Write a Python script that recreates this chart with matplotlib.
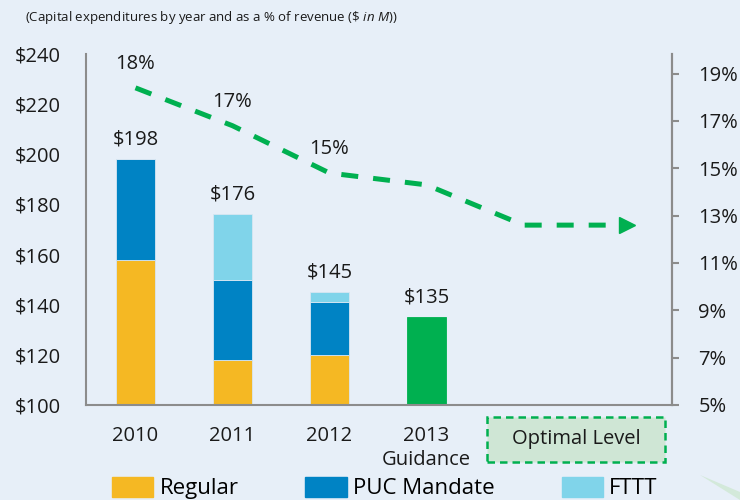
import matplotlib
matplotlib.use('Agg')
import matplotlib.pyplot as plt
from matplotlib.patches import Patch, Rectangle, Polygon

plt.rcParams['font.family'] = ['Open Sans', 'DejaVu Sans']
plt.rcParams['mathtext.fontset'] = 'custom'
plt.rcParams['mathtext.rm'] = 'Open Sans'
plt.rcParams['mathtext.it'] = 'Open Sans:italic'

# data ($M and % of revenue)
years = ['2010', '2011', '2012', '2013\nGuidance']
regular = [158, 118, 120, 0]
puc_mandate = [40, 32, 21, 0]
fttt = [0, 26, 4, 0]
guidance = [0, 0, 0, 135]
totals = [198, 176, 145, 135]
pct_x = [0, 1, 2, 3, 4, 5]
pct = [18.4, 16.8, 14.8, 14.3, 12.6, 12.6]
pct_labels = ['18%', '17%', '15%']

bg = '#E7EFF8'
c_regular = '#F5B823'
c_puc = '#0083C4'
c_fttt = '#80D4EA'
c_green = '#00B050'
c_axis = '#8C8C8C'
txt = '#1A1A1A'

fig = plt.figure(figsize=(7.4, 5), dpi=100, facecolor=bg)
ax = fig.add_axes([86 / 740, 95 / 500, 586 / 740, 351 / 500])
ax.set_facecolor('none')

x = range(len(years))
w = 0.4
edge = dict(edgecolor='#D8E6F2', linewidth=0.6)
ax.bar(x, regular, w, color=c_regular, **edge)
bot = [r for r in regular]
ax.bar(x, puc_mandate, w, bottom=bot, color=c_puc, **edge)
bot = [b + p for b, p in zip(bot, puc_mandate)]
ax.bar(x, fttt, w, bottom=bot, color=c_fttt, **edge)
ax.bar(x, guidance, w, color=c_green, edgecolor=c_green, linewidth=0.6)

for i, t in enumerate(totals):
    ax.annotate(f'${t}', (i, t), xytext=(0, 7), textcoords='offset points',
                ha='center', va='bottom', fontsize=14.5, color=txt)

ax.set_xlim(-0.51, 5.53)
ax.set_ylim(100, 240)
ax.set_yticks(range(100, 241, 20))
ax.set_yticklabels([f'${v}' for v in range(100, 241, 20)])
ax.set_xticks(list(x))
ax.set_xticklabels(years, linespacing=1.3)
ax.tick_params(axis='y', length=0, pad=18, labelsize=14.5, labelcolor=txt)
ax.tick_params(axis='x', length=0, pad=15, labelsize=14.5, labelcolor=txt)
ax.spines['top'].set_visible(False)
for s in ['left', 'right', 'bottom']:
    ax.spines[s].set_color(c_axis)
    ax.spines[s].set_linewidth(1.5)

ax2 = ax.twinx()
ax2.set_ylim(5, 19.83)
ax2.set_yticks(range(5, 20, 2))
ax2.set_yticklabels([f'{v}%' for v in range(5, 20, 2)])
ax2.tick_params(axis='y', length=5, width=1.5, color=c_axis, pad=14,
                labelsize=14.5, labelcolor=txt)
ax2.spines['top'].set_visible(False)
ax2.spines['left'].set_visible(False)
ax2.spines['bottom'].set_visible(False)
ax2.spines['right'].set_color(c_axis)
ax2.spines['right'].set_linewidth(1.5)

ax2.plot(pct_x, pct, color=c_green, linewidth=3.6, dashes=(3.4, 3.0))
ax2.plot(pct_x[-1] + 0.07, pct[-1], marker='>', color=c_green, markersize=12)
for i, lab in enumerate(pct_labels):
    ax2.annotate(lab, (pct_x[i], pct[i]), xytext=(0, 10),
                 textcoords='offset points', ha='center', va='bottom',
                 fontsize=14.5, color=txt)

# optimal level box under the axis
tr = ax.get_xaxis_transform()
ax.add_patch(Rectangle((3.62, -0.162), 1.84, 0.128, transform=tr,
                       facecolor='#CFE6D5', edgecolor=c_green, linewidth=1.8,
                       linestyle=(0, (3, 2)), clip_on=False))
ax.text(4.54, -0.098, 'Optimal Level', transform=tr, ha='center',
        va='center', fontsize=14.5, color=txt)

fig.text(25 / 740, 1 - 18 / 500,
         r'(Capital expenditures by year and as a % of revenue ($\mathit{\$\ in\ M}$))',
         fontsize=9.5, color=txt, va='center')

fig.patches.append(Polygon([(700 / 740, 25 / 500), (1, 8 / 500), (1, 0)],
                           closed=True, transform=fig.transFigure,
                           facecolor='#D3E9DA', edgecolor='none'))

handles = [Patch(color=c_regular), Patch(color=c_puc), Patch(color=c_fttt)]
fig.legend(handles, ['Regular', 'PUC Mandate', 'FTTT'], ncol=3,
           loc='center left', bbox_to_anchor=(112 / 740, 1 - 488 / 500),
           frameon=False, fontsize=16, handlelength=1.85, handleheight=1.0,
           handletextpad=0.3, columnspacing=3.0, borderpad=0,
           borderaxespad=0)

fig.savefig('out.png', dpi=100, facecolor=bg)
